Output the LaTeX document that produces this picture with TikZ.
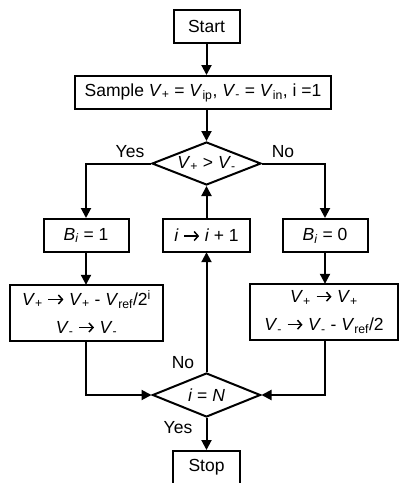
\documentclass[tikz,border=0pt]{standalone}
\usepackage{fontspec}
\setmainfont{Liberation Sans}
\usetikzlibrary{shapes.geometric,arrows.meta}
\newcommand\Vx[1]{\textit{V}\textsubscript{#1}}
\newcommand\ar{\tikz[x=1pt,y=1pt,line width=1.5pt,baseline=0pt]{\draw[-{Straight Barb[length=4pt,width=9pt,line width=1.5pt]}] (0,5.8) -- (15,5.8);}}
\begin{document}
\begin{tikzpicture}[x=1pt,y=-1pt,line width=2pt,
  box/.style={draw,rectangle,inner sep=0pt,font=\fontsize{17.5}{28}\selectfont,align=center},
  dia/.style={draw,diamond,shape aspect=2.5,inner sep=0pt,font=\fontsize{17.5}{22}\selectfont},
  arr/.style={-{Triangle[length=10pt,width=10pt]}},
  lbl/.style={font=\fontsize{17.5}{22}\selectfont,inner sep=0pt}]
\useasboundingbox[fill=white] (0,0) rectangle (399,483);
\node[box,minimum width=66,minimum height=33] (start) at (206.5,26.5) {Start};
\node[box,minimum width=256,minimum height=33] (sample) at (203,92.5) {Sample \Vx{+} = \Vx{ip}, \Vx{-} = \Vx{in}, i =1};
\node[dia,minimum width=109,minimum height=43] (d1) at (206.5,163.5) {\Vx{+} > \Vx{-}};
\node[box,minimum width=85,minimum height=33] (b1) at (86,235.5) {\textit{B}\textsubscript{\textit{i}} = 1};
\node[box,minimum width=87,minimum height=33] (inc) at (206.5,235.5) {\textit{i} \ar{} \textit{i} + 1};
\node[box,minimum width=85,minimum height=33] (b0) at (325,235.5) {\textit{B}\textsubscript{\textit{i}} = 0};
\node[box,minimum width=153,minimum height=56] (lb) at (86.5,313) {\Vx{+} \ar{} \Vx{+} - \Vx{ref}/2\textsuperscript{i}\\ \Vx{-} \ar{} \Vx{-}};
\node[box,minimum width=148,minimum height=56] (rb) at (324,312) {\Vx{+} \ar{} \Vx{+}\\ \Vx{-} \ar{} \Vx{-} - \Vx{ref}/2};
\node[dia,minimum width=108,minimum height=44] (d2) at (206.5,395) {\textit{i} = \textit{N}};
\node[box,minimum width=67,minimum height=33] (stop) at (206.5,467.5) {Stop};
\node[lbl] (yes1) at (130,152) {Yes};
\node[lbl] (no1) at (283,152) {No};
\node[lbl] (no2) at (183,363) {No};
\node[lbl] (yes2) at (178,428) {Yes};
\draw[arr] (start) -- (start |- sample.north);
\draw[arr] (sample.south -| d1) -- (d1.north);
\draw[arr] (d1.west) -| (b1.north);
\draw[arr] (d1.east) -| (b0.north);
\draw[arr] (b1) -- (b1 |- lb.north);
\draw[arr] (b0) -- (b0 |- rb.north);
\draw[arr] (lb.south -| b1) |- (d2.west);
\draw[arr] (rb.south -| b0) |- (d2.east);
\draw[arr] (d2.north) -- (inc.south);
\draw[arr] (inc.north) -- (d1.south);
\draw[arr] (d2.south) -- (stop.north);
\end{tikzpicture}
\end{document}
